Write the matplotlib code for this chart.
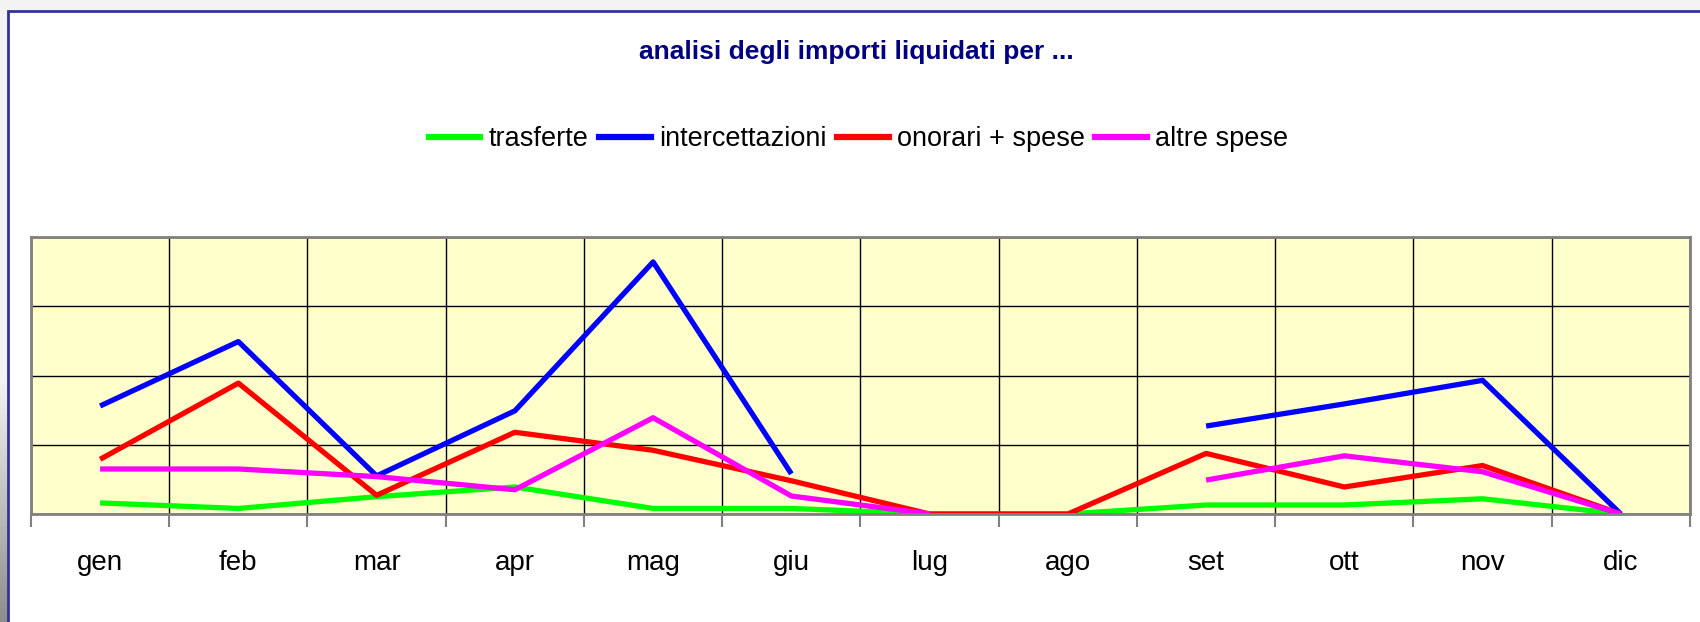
import numpy as np
import matplotlib
matplotlib.use("Agg")
import matplotlib.pyplot as plt
from matplotlib.patches import Rectangle
from matplotlib.lines import Line2D

# dati (unita' = una riga di griglia)
mesi = ['gen', 'feb', 'mar', 'apr', 'mag', 'giu', 'lug', 'ago', 'set', 'ott', 'nov', 'dic']
trasferte = [0.16, 0.08, 0.25, 0.39, 0.08, 0.08, 0.0, 0.0, 0.13, 0.13, 0.22, 0.0]
intercettazioni = [1.56, 2.49, 0.55, 1.49, 3.64, 0.58, None, None, 1.27, 1.59, 1.93, 0.0]
onorari_spese = [0.79, 1.89, 0.27, 1.18, 0.92, 0.48, 0.0, 0.0, 0.875, 0.39, 0.70, 0.0]
altre_spese = [0.65, 0.65, 0.54, 0.35, 1.39, 0.26, 0.0, None, 0.49, 0.84, 0.61, 0.0]

serie = [('trasferte', trasferte, '#00ff00'),
         ('intercettazioni', intercettazioni, '#0000ff'),
         ('onorari + spese', onorari_spese, '#ff0000'),
         ('altre spese', altre_spese, '#ff00ff')]

font = ['Liberation Sans', 'DejaVu Sans']

fig = plt.figure(figsize=(17, 6.22), dpi=100)
fig.patch.set_facecolor('#f3f3f3')

# striscia grigia sfumata sul bordo sinistro
bordo = fig.add_axes([0, 0, 8 / 1700, 1])
bordo.set_axis_off()
sfum = np.concatenate([np.full(380, 0.95), np.linspace(0.95, 0.55, 242)])[:, None]
bordo.imshow(sfum, cmap='gray', vmin=0, vmax=1, aspect='auto', extent=[0, 1, 0, 1], origin='upper')
bordo.set_zorder(-20)

# riquadro bianco del grafico con bordo blu
sfondo = Rectangle((8 / 1700, -0.1), 1.1, 1 - 11 / 622 + 0.1, transform=fig.transFigure,
                   facecolor='white', edgecolor='#333399', linewidth=2, zorder=-10)
fig.add_artist(sfondo)

ax = fig.add_axes([31 / 1700, 1 - 514 / 622, 1659 / 1700, (514 - 237) / 622])
ax.set_zorder(1)
ax.set_facecolor('#ffffcc')

x = np.arange(len(mesi))
for nome, valori, colore in serie:
    y = np.array([np.nan if v is None else v for v in valori], dtype=float)
    ax.plot(x, y, color=colore, linewidth=3.8, solid_capstyle='butt', label=nome)

ax.set_xlim(-0.5, len(mesi) - 0.5)
ax.set_ylim(0, 4)
ax.set_yticks(np.arange(0, 5))
ax.set_yticklabels([])
ax.tick_params(axis='y', length=0)
ax.grid(axis='y', color='black', linewidth=1)
ax.set_xticks(x)
ax.set_xticklabels(mesi, fontsize=20, family=font)
ax.tick_params(axis='x', which='major', length=0, pad=26)
ax.set_xticks(np.arange(-0.5, len(mesi)), minor=True)
ax.tick_params(axis='x', which='minor', length=9, color='#808080', width=1.5)
ax.grid(axis='x', which='minor', color='black', linewidth=1)
ax.set_axisbelow(True)
for s in ax.spines.values():
    s.set_color('#808080')
    s.set_linewidth(2)

fig.text(0.504, 1 - 52 / 622, 'analisi degli importi liquidati per ...', ha='center', va='center',
         fontsize=19, fontweight='bold', color='#000080', family=font)

handles = [Line2D([], [], color=c, linewidth=4.5) for _, _, c in serie]
fig.legend(handles, [n for n, _, _ in serie], loc='center', bbox_to_anchor=(0.505, 1 - 139 / 622),
           ncol=4, frameon=False, prop={'family': font, 'size': 19.5},
           handlelength=1.9, handletextpad=0.3, columnspacing=0.4)

fig.savefig('out.png', dpi=100, facecolor=fig.get_facecolor())
